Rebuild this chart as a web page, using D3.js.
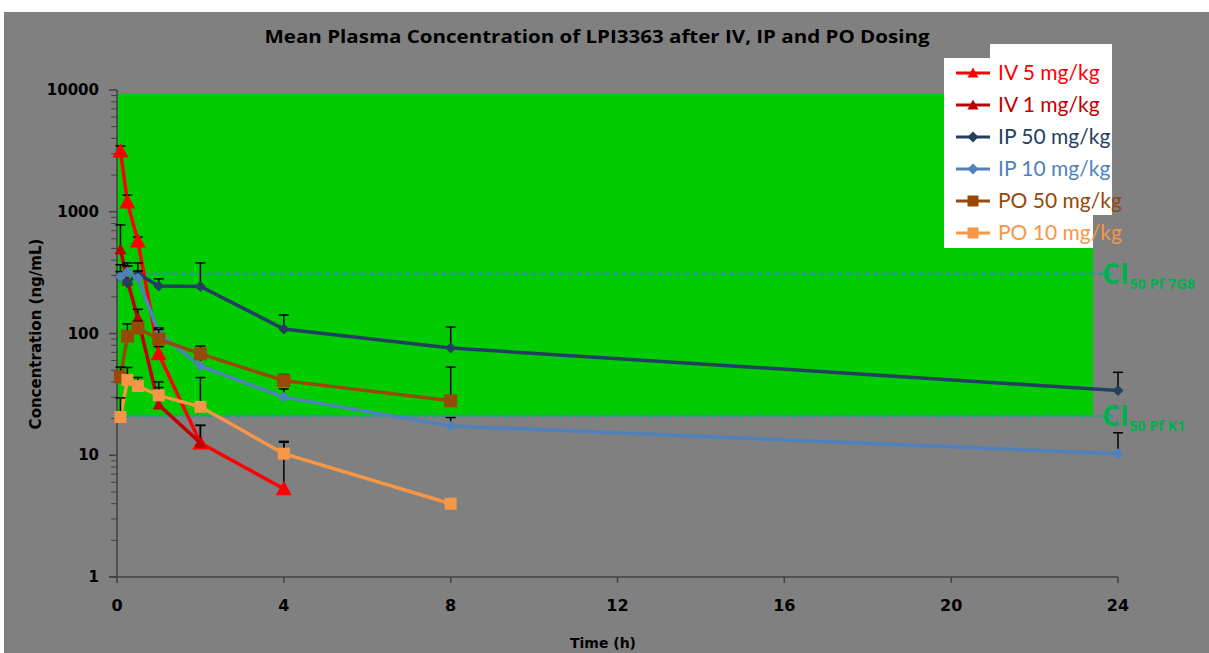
<!DOCTYPE html>
<html>
<head>
<meta charset="utf-8">
<script src="https://cdn.jsdelivr.net/npm/d3@7"></script>
<style>
  body { margin: 0; background: #ffffff; }
  svg { display: block; }
</style>
</head>
<body>
<svg id="chart" width="1209" height="653"></svg>
<script>
"use strict";

// Sampling times (h)
const times = [0.083, 0.25, 0.5, 1, 2, 4, 8, 24];

// Mean concentrations (ng/mL) and SD (upper error bar) per dosing group
const iv5 = [3150, 1200, 575, 68, 12.6, 5.3];
const iv5Sd = [320, 170, 45, 10, 5, 7.5];
const iv1 = [490, 270, 134, 26, 12.6];
const iv1Sd = [290, 90, 24, 14, 5];
const ip50 = [290, 260, 310, 246, 243, 109, 76, 34];
const ip50Sd = [77, 100, 70, 35, 137, 33, 37, 14];
const ip10 = [292, 320, 286, 101, 54, 30, 17.4, 10.3];
const ip10Sd = [30, 60, 40, 10, 8, 5, 3, 5];
const po50 = [44, 95, 111, 90, 68, 41, 28];
const po50Sd = [9, 25, 15, 18, 11, 5, 25];
const po10 = [20.6, 41.6, 37, 31, 25, 10.3, 4.0];
const po10Sd = [9, 11, 6.5, 5, 18.5, 2.7, 0];

const seriesNames = ["IV 5 mg/kg", "IV 1 mg/kg", "IP 50 mg/kg", "IP 10 mg/kg", "PO 50 mg/kg", "PO 10 mg/kg"];
const seriesColors = ["#ff0000", "#c00000", "#243f60", "#4f81bd", "#984807", "#f79646"];

// IC50 thresholds (ng/mL) and the shaded window
const ciValues = [310, 21];
const ciLabels = ["50 Pf 7G8", "50 Pf K1"];
const ciLabelWidths = [66, 56];
const windowTop = 9300;
const windowEnd = 23.4;

const yTicks = [1, 10, 100, 1000, 10000];
const xTicks = [0, 4, 8, 12, 16, 20, 24];

const series = [
  { name: seriesNames[0], color: seriesColors[0], vals: iv5, sd: iv5Sd, shape: "tri", size: 16 },
  { name: seriesNames[1], color: seriesColors[1], vals: iv1, sd: iv1Sd, shape: "tri", size: 12 },
  { name: seriesNames[2], color: seriesColors[2], vals: ip50, sd: ip50Sd, shape: "dia", size: 11 },
  { name: seriesNames[3], color: seriesColors[3], vals: ip10, sd: ip10Sd, shape: "dia", size: 11 },
  { name: seriesNames[4], color: seriesColors[4], vals: po50, sd: po50Sd, shape: "sq", size: 13 },
  { name: seriesNames[5], color: seriesColors[5], vals: po10, sd: po10Sd, shape: "sq", size: 12 }
];

const svg = d3.select("#chart");

const x = d3.scaleLinear().domain([0, 24]).range([117, 1118]);
const y = d3.scaleLog().domain([1, 10000]).range([577, 90]);

// chart background
svg.append("rect")
  .attr("x", 4).attr("y", 12)
  .attr("width", 1205).attr("height", 641)
  .attr("fill", "#808080");

// title
svg.append("text")
  .attr("x", 597).attr("y", 43)
  .attr("text-anchor", "middle")
  .style("font-family", "'Open Sans', Lato, sans-serif")
  .style("font-weight", "bold")
  .style("font-size", "18px")
  .attr("fill", "#000")
  .attr("textLength", 665)
  .attr("lengthAdjust", "spacingAndGlyphs")
  .text("Mean Plasma Concentration of  LPI3363 after IV, IP and PO Dosing");

// green therapeutic window
svg.append("rect")
  .attr("x", x(0))
  .attr("y", y(windowTop))
  .attr("width", x(windowEnd) - x(0))
  .attr("height", y(ciValues[1]) - y(windowTop))
  .attr("fill", "#00cc00");

// IC50 dashed lines
ciValues.forEach(function(v, i) {
  svg.append("line")
    .attr("x1", x(0)).attr("x2", x(23.9))
    .attr("y1", y(v)).attr("y2", y(v))
    .attr("stroke", "#22a088")
    .attr("stroke-width", 2.5)
    .attr("stroke-dasharray", "6,3");
  const lab = svg.append("text")
    .attr("x", 1102).attr("y", y(v) + 10)
    .style("font-family", "'Open Sans', sans-serif")
    .style("font-weight", "bold")
    .attr("fill", "#00b050");
  lab.append("tspan").style("font-size", "28px").text("CI");
  lab.append("tspan").style("font-size", "15px").attr("dy", 5)
    .attr("textLength", ciLabelWidths[i])
    .attr("lengthAdjust", "spacingAndGlyphs")
    .text(ciLabels[i]);
});

// y axis
const yAxis = svg.append("g");
yAxis.append("line")
  .attr("x1", x(0)).attr("x2", x(0))
  .attr("y1", y(10000)).attr("y2", y(1))
  .attr("stroke", "#404040").attr("stroke-width", 1.5);

const minor = [];
for (let d = 1; d < 10000; d *= 10) {
  for (let m = 2; m <= 9; m++) minor.push(d * m);
}
yAxis.selectAll(".minor")
  .data(minor).enter().append("line")
  .attr("x1", x(0) - 6).attr("x2", x(0))
  .attr("y1", function(d) { return y(d); })
  .attr("y2", function(d) { return y(d); })
  .attr("stroke", "#404040").attr("stroke-width", 1);
yAxis.selectAll(".major")
  .data(yTicks).enter().append("line")
  .attr("x1", x(0) - 8).attr("x2", x(0))
  .attr("y1", function(d) { return y(d); })
  .attr("y2", function(d) { return y(d); })
  .attr("stroke", "#404040").attr("stroke-width", 1.5);
yAxis.selectAll("text")
  .data(yTicks).enter().append("text")
  .attr("x", 99)
  .attr("y", function(d) { return y(d) + 5; })
  .attr("text-anchor", "end")
  .style("font-family", "'DejaVu Sans', sans-serif")
  .style("font-weight", "bold")
  .style("font-size", "15px")
  .text(function(d) { return d; });

svg.append("text")
  .attr("transform", "translate(41,334) rotate(-90)")
  .attr("text-anchor", "middle")
  .style("font-family", "'DejaVu Sans', sans-serif")
  .style("font-weight", "bold")
  .style("font-size", "15px")
  .text("Concentration (ng/mL)");

// x axis
const xAxis = svg.append("g");
xAxis.append("line")
  .attr("x1", x(0) - 8).attr("x2", x(24))
  .attr("y1", y(1)).attr("y2", y(1))
  .attr("stroke", "#404040").attr("stroke-width", 1.5);
xAxis.selectAll(".tick")
  .data(xTicks).enter().append("line")
  .attr("x1", function(d) { return x(d); })
  .attr("x2", function(d) { return x(d); })
  .attr("y1", y(1)).attr("y2", y(1) + 6)
  .attr("stroke", "#404040").attr("stroke-width", 1.5);
xAxis.selectAll("text")
  .data(xTicks).enter().append("text")
  .attr("x", function(d) { return x(d); })
  .attr("y", 611)
  .attr("text-anchor", "middle")
  .style("font-family", "'DejaVu Sans', sans-serif")
  .style("font-weight", "bold")
  .style("font-size", "16px")
  .text(function(d) { return d; });

svg.append("text")
  .attr("x", 603).attr("y", 648)
  .attr("text-anchor", "middle")
  .style("font-family", "'DejaVu Sans', sans-serif")
  .style("font-weight", "bold")
  .style("font-size", "14px")
  .text("Time (h)");

function markerPath(shape, size) {
  const h = size / 2;
  if (shape === "tri") return "M0," + (-h) + "L" + h + "," + (h * 0.8) + "L" + (-h) + "," + (h * 0.8) + "Z";
  if (shape === "dia") return "M0," + (-h) + "L" + h + ",0L0," + h + "L" + (-h) + ",0Z";
  return "M" + (-h) + "," + (-h) + "H" + h + "V" + h + "H" + (-h) + "Z";
}

const line = d3.line()
  .x(function(d) { return x(d.t); })
  .y(function(d) { return y(d.v); });

// series: line, error bars, markers
series.forEach(function(s) {
  const pts = s.vals.map(function(v, i) { return { t: times[i], v: v, sd: s.sd[i] }; });
  const g = svg.append("g");
  g.append("path")
    .datum(pts)
    .attr("d", line)
    .attr("fill", "none")
    .attr("stroke", s.color)
    .attr("stroke-width", 3.5);

  const eb = g.selectAll(".err")
    .data(pts.filter(function(p) { return p.sd > 0; }))
    .enter().append("g");
  eb.append("line")
    .attr("x1", function(p) { return x(p.t); })
    .attr("x2", function(p) { return x(p.t); })
    .attr("y1", function(p) { return y(p.v); })
    .attr("y2", function(p) { return y(p.v + p.sd); })
    .attr("stroke", "#000").attr("stroke-width", 1.5);
  eb.append("line")
    .attr("x1", function(p) { return x(p.t) - 5; })
    .attr("x2", function(p) { return x(p.t) + 5; })
    .attr("y1", function(p) { return y(p.v + p.sd); })
    .attr("y2", function(p) { return y(p.v + p.sd); })
    .attr("stroke", "#000").attr("stroke-width", 1.5);

  g.selectAll(".mk")
    .data(pts).enter().append("path")
    .attr("d", markerPath(s.shape, s.size))
    .attr("transform", function(p) { return "translate(" + x(p.t) + "," + y(p.v) + ")"; })
    .attr("fill", s.color);
});

// legend
svg.append("path")
  .attr("d", "M944,58H990V44H1112V215H1093V248H944Z")
  .attr("fill", "#ffffff");

const leg = svg.append("g");
series.forEach(function(s, i) {
  const cy = 73 + i * 32;
  leg.append("line")
    .attr("x1", 956).attr("x2", 990)
    .attr("y1", cy).attr("y2", cy)
    .attr("stroke", s.color).attr("stroke-width", 3);
  leg.append("path")
    .attr("d", markerPath(s.shape, Math.min(s.size, 11)))
    .attr("transform", "translate(973," + cy + ")")
    .attr("fill", s.color);
  leg.append("text")
    .attr("x", 998).attr("y", cy + 7)
    .style("font-family", "Lato, 'Open Sans', sans-serif")
    .style("font-size", "21px")
    .attr("fill", s.color)
    .text(s.name);
});
</script>
</body>
</html>
